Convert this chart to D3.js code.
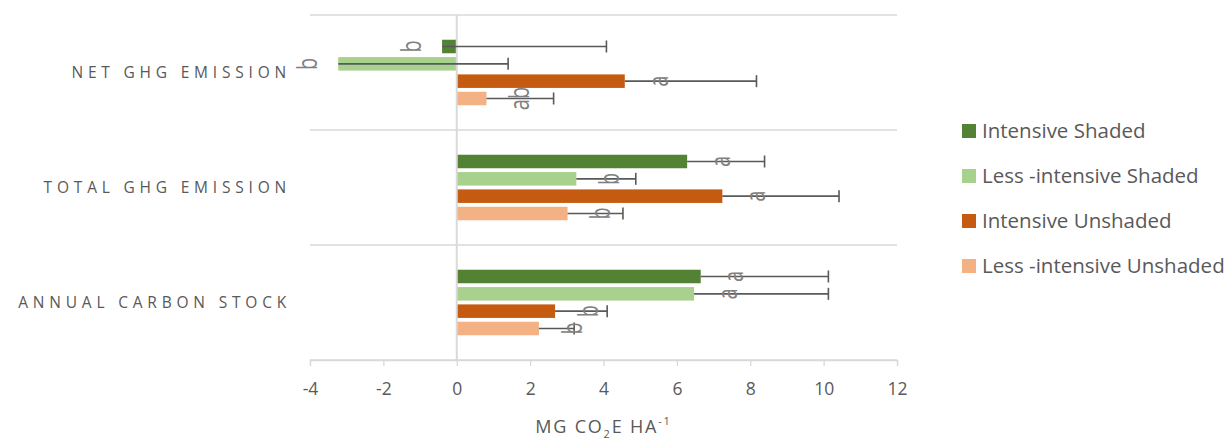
<!DOCTYPE html>
<html>
<head>
<meta charset="utf-8">
<script src="https://cdn.jsdelivr.net/npm/d3@7"></script>
<style>
  body { margin: 0; background: #fff; }
  text { font-family: "Open Sans", "Noto Sans", sans-serif; }
</style>
</head>
<body>
<script>
const categories = ["NET GHG EMISSION", "TOTAL GHG EMISSION", "ANNUAL CARBON STOCK"];
const series = ["Intensive Shaded", "Less -intensive Shaded", "Intensive Unshaded", "Less -intensive Unshaded"];
const colors = ["#548235", "#a9d18e", "#c55a11", "#f4b183"];

// values per series, in category order
const intensiveShaded = [-0.4, 6.28, 6.65];
const lessShaded = [-3.23, 3.26, 6.47];
const intensiveUnshaded = [4.58, 7.24, 2.68];
const lessUnshaded = [0.81, 3.02, 2.24];

// plus error bar lengths
const errIntensiveShaded = [4.48, 2.11, 3.48];
const errLessShaded = [4.63, 1.62, 3.66];
const errIntensiveUnshaded = [3.59, 3.18, 1.42];
const errLessUnshaded = [1.83, 1.51, 0.96];

// significance letters
const lettersIntensiveShaded = ["b", "a", "a"];
const lettersLessShaded = ["b", "b", "a"];
const lettersIntensiveUnshaded = ["a", "a", "b"];
const lettersLessUnshaded = ["ab", "b", "b"];

const xTicks = [-4, -2, 0, 2, 4, 6, 8, 10, 12];

const values = [intensiveShaded, lessShaded, intensiveUnshaded, lessUnshaded];
const errors = [errIntensiveShaded, errLessShaded, errIntensiveUnshaded, errLessUnshaded];
const letters = [lettersIntensiveShaded, lettersLessShaded, lettersIntensiveUnshaded, lettersLessUnshaded];

const rows = [];
categories.forEach((c, ci) => {
    series.forEach((s, si) => {
        rows.push({ cat: c, ser: s, si, value: values[si][ci], err: errors[si][ci], letter: letters[si][ci] });
    });
});

const width = 1228, height = 441;
const margin = { left: 310, right: 331, top: 15, bottom: 81 };

const svg = d3.select("body").append("svg")
    .attr("width", width)
    .attr("height", height);

const x = d3.scaleLinear()
    .domain([-4, 12])
    .range([margin.left, width - margin.right]);

const y = d3.scaleBand()
    .domain(categories)
    .range([margin.top, height - margin.bottom])
    .paddingInner(0.4)
    .paddingOuter(0.2);

const ySer = d3.scaleBand()
    .domain(series)
    .range([0, y.bandwidth()])
    .paddingInner(0.22)
    .paddingOuter(0.1);

const step = y.step();
const gridColor = "#d9d9d9";
const textColor = "#595959";

// horizontal separators between categories
const seps = d3.range(categories.length + 1).map(i => margin.top + i * step);
svg.selectAll(".sep")
    .data(seps)
    .enter().append("line")
    .attr("class", "sep")
    .attr("x1", x(-4)).attr("x2", x(12))
    .attr("y1", d => d).attr("y2", d => d)
    .attr("stroke", gridColor)
    .attr("stroke-width", 1.3);

// bars
svg.selectAll(".bar")
    .data(rows)
    .enter().append("rect")
    .attr("class", "bar")
    .attr("x", d => x(Math.min(0, d.value)))
    .attr("width", d => Math.abs(x(d.value) - x(0)))
    .attr("y", d => y(d.cat) + ySer(d.ser))
    .attr("height", ySer.bandwidth())
    .attr("fill", d => colors[d.si]);

// zero line
svg.append("line")
    .attr("x1", x(0)).attr("x2", x(0))
    .attr("y1", margin.top).attr("y2", height - margin.bottom)
    .attr("stroke", gridColor)
    .attr("stroke-width", 2);

// error bars (plus direction only)
const err = svg.selectAll(".err")
    .data(rows)
    .enter().append("g")
    .attr("class", "err")
    .attr("transform", d => `translate(0,${y(d.cat) + ySer(d.ser) + ySer.bandwidth() / 2})`);

err.append("line")
    .attr("x1", d => x(d.value))
    .attr("x2", d => x(d.value + d.err))
    .attr("stroke", "#595959")
    .attr("stroke-width", 1.6);

err.append("line")
    .attr("x1", d => x(d.value + d.err))
    .attr("x2", d => x(d.value + d.err))
    .attr("y1", -6).attr("y2", 6)
    .attr("stroke", "#595959")
    .attr("stroke-width", 1.6);

// significance letters, rotated
svg.selectAll(".letter")
    .data(rows)
    .enter().append("text")
    .attr("class", "letter")
    .attr("transform", d => {
        const cx = x(d.value) + (d.value < 0 ? -31 : 33);
        const cy = y(d.cat) + ySer(d.ser) + ySer.bandwidth() / 2;
        return `translate(${cx},${cy}) rotate(-90) scale(1,1.35)`;
    })
    .attr("text-anchor", "middle")
    .attr("dy", "0.36em")
    .attr("font-size", 20)
    .attr("fill", "#808080")
    .text(d => d.letter);

// category labels
svg.selectAll(".cat")
    .data(categories)
    .enter().append("text")
    .attr("class", "cat")
    .attr("x", 291)
    .attr("y", d => y(d) + y.bandwidth() / 2)
    .attr("dy", "0.35em")
    .attr("text-anchor", "end")
    .attr("font-size", 15.5)
    .attr("letter-spacing", 4.8)
    .attr("fill", textColor)
    .text(d => d);

// x axis
const xAxis = svg.append("g")
    .attr("transform", `translate(0,${height - margin.bottom})`)
    .call(d3.axisBottom(x).tickValues(xTicks).tickFormat(d => String(d)).tickSize(6).tickPadding(17));

xAxis.select(".domain").attr("stroke", gridColor).attr("stroke-width", 1.3);
xAxis.selectAll(".tick line").attr("stroke", gridColor).attr("stroke-width", 1.3);
xAxis.selectAll(".tick text")
    .attr("font-size", 17.5)
    .attr("fill", textColor)
    .attr("font-family", "'Open Sans', sans-serif");

// axis title
const title = svg.append("text")
    .attr("x", (x(-4) + x(12)) / 2)
    .attr("y", 433)
    .attr("text-anchor", "middle")
    .attr("font-size", 18)
    .attr("letter-spacing", 1.8)
    .attr("fill", textColor);
title.append("tspan").text("MG CO");
title.append("tspan").attr("font-size", 11).attr("dy", 5).text("2");
title.append("tspan").attr("dy", -5).text("E HA");
title.append("tspan").attr("font-size", 11).attr("dy", -8).text("-1");

// legend
const legend = svg.selectAll(".legend")
    .data(series)
    .enter().append("g")
    .attr("class", "legend")
    .attr("transform", (d, i) => `translate(962,${131 + i * 45})`);

legend.append("rect")
    .attr("x", 0).attr("y", -7)
    .attr("width", 14).attr("height", 14)
    .attr("fill", (d, i) => colors[i]);

legend.append("text")
    .attr("x", 20)
    .attr("dy", "0.36em")
    .attr("font-size", 20.5)
    .attr("fill", textColor)
    .text(d => d);
</script>
</body>
</html>
